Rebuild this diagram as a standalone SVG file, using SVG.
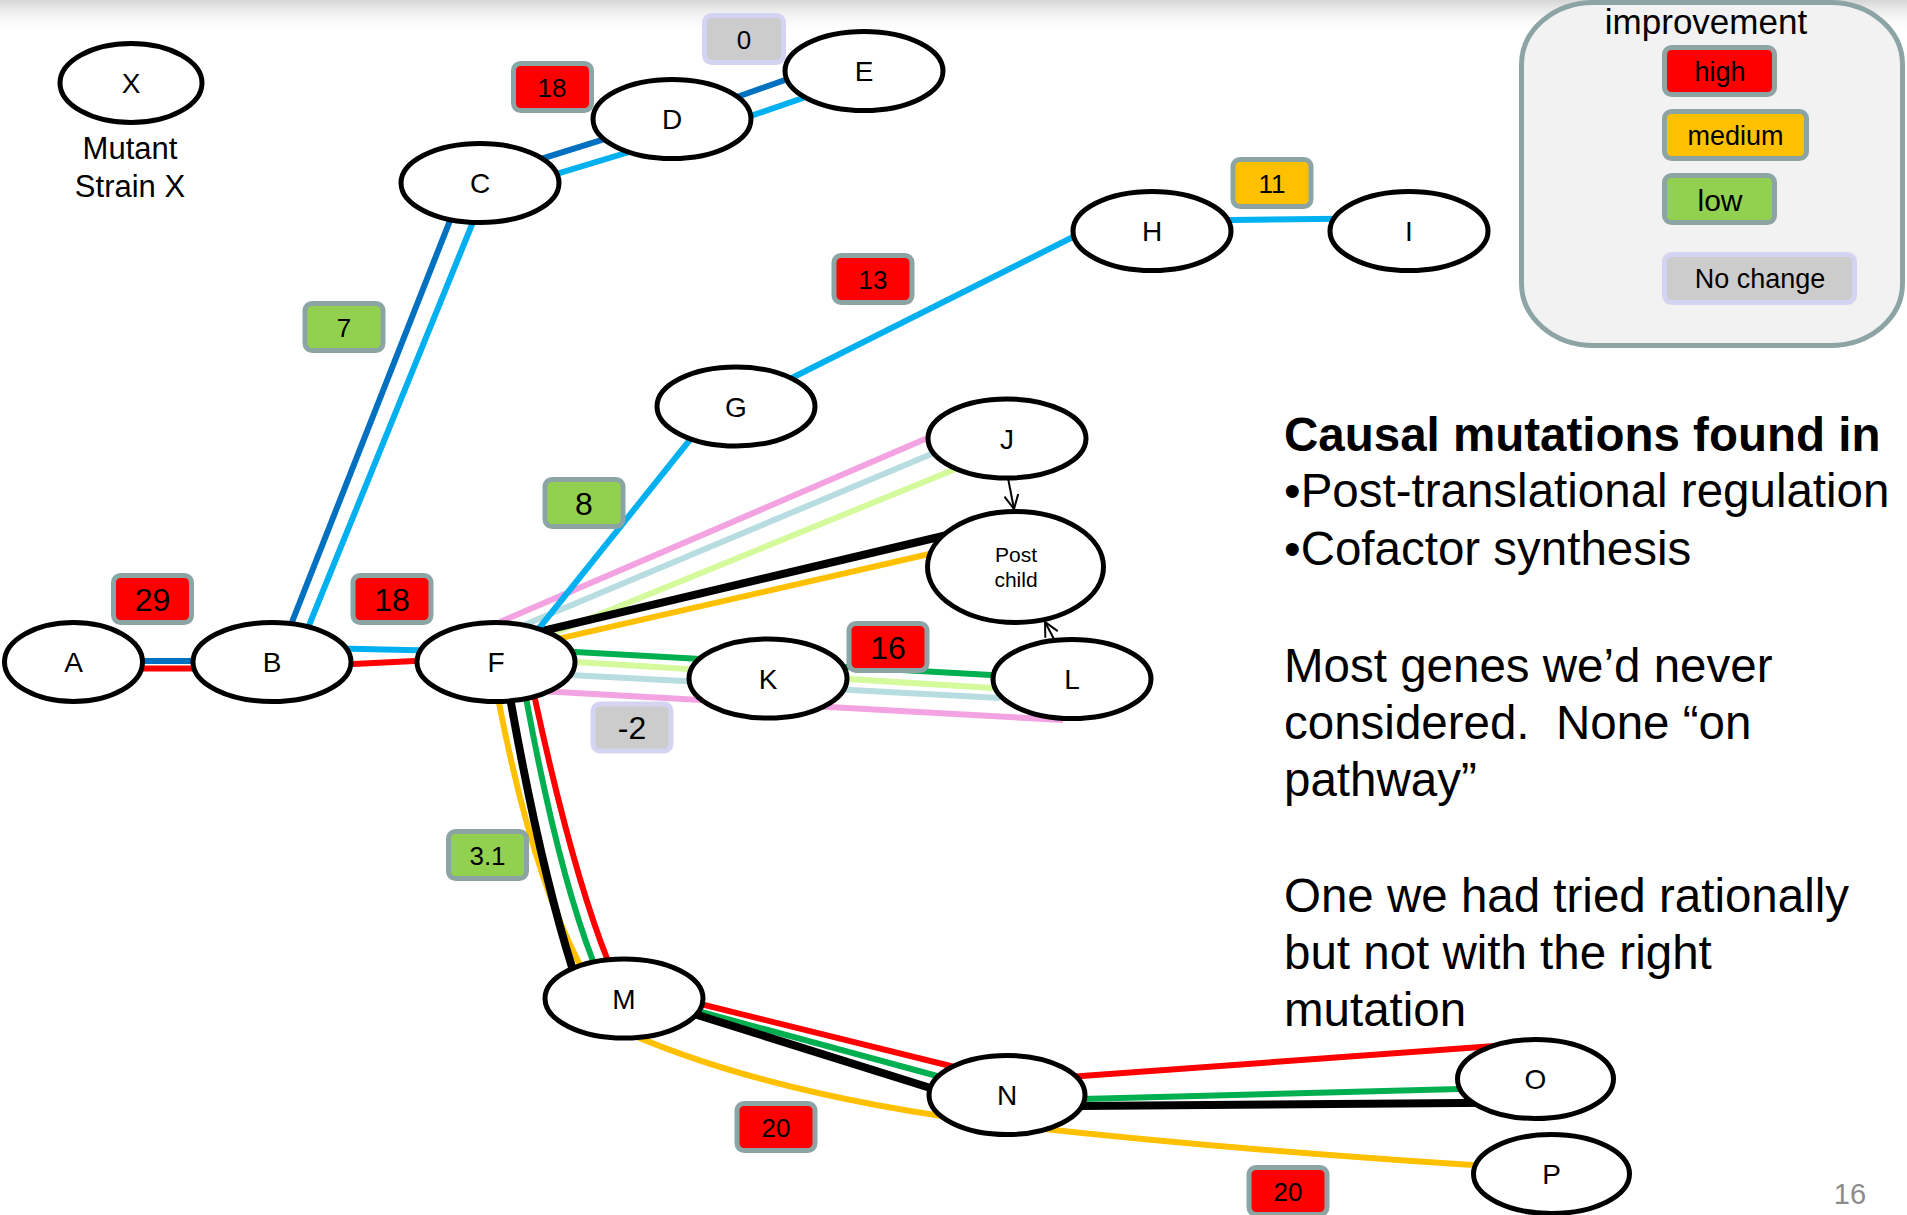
<svg xmlns="http://www.w3.org/2000/svg" width="1907" height="1215" viewBox="0 0 1907 1215">
  <defs>
    <linearGradient id="topShade" x1="0" y1="0" x2="0" y2="1">
      <stop offset="0" stop-color="#d6d6d6"/>
      <stop offset="1" stop-color="#ffffff" stop-opacity="0"/>
    </linearGradient>
    <marker id="openArrow" viewBox="0 0 16 16" refX="15" refY="8" markerWidth="16" markerHeight="16" markerUnits="userSpaceOnUse" orient="auto">
      <path d="M1,1 L15,8 L1,15" fill="none" stroke="#000" stroke-width="2"/>
    </marker>
    <style>
      text { font-family: "Liberation Sans", Arial, sans-serif; fill: #000; }
      .node { fill: #fff; stroke: #000; stroke-width: 5; }
      .nlab { font-size: 28px; text-anchor: middle; }
      .edge { fill: none; stroke-width: 6; }
      .db { stroke: #0070c0; }
      .lb { stroke: #00b0f0; }
      .rd { stroke: #ff0000; }
      .bk { stroke: #000000; stroke-width: 8; }
      .og { stroke: #ffc000; }
      .gn { stroke: #00b050; }
      .lg { stroke: #d5fa9c; }
      .tl { stroke: #b7dde0; }
      .pk { stroke: #f3a3e2; }
      .arrow { fill: none; stroke: #000; stroke-width: 2; }
      .tag { stroke: #8ca4a4; stroke-width: 5; }
      .tag-nc { fill: #cccccc; stroke: #d4d4f2; stroke-width: 5; }
      .hi { fill: #ff0000; }
      .md { fill: #ffc000; }
      .lo { fill: #92d050; }
      .tsm { font-size: 26px; text-anchor: middle; }
      .tbg { font-size: 32px; text-anchor: middle; }
      .body { font-size: 47.5px; white-space: pre; }
      .pagenum { font-size: 29px; text-anchor: middle; fill: #8c8c8c; }
    </style>
  </defs>

  <!-- soft shade along the top edge -->
  <rect x="0" y="0" width="1907" height="34" fill="url(#topShade)"/>

  <!-- legend panel -->
  <g id="legend">
    <rect x="1521.5" y="2.5" width="381" height="343" rx="72" ry="62" fill="#f2f2f2" stroke="#8ca4a4" stroke-width="5"/>
    <text x="1706" y="34" font-size="35" text-anchor="middle">improvement</text>
    <rect class="tag hi" x="1664.5" y="47.5" width="110" height="47" rx="7"/>
    <text x="1720" y="81" font-size="27" text-anchor="middle">high</text>
    <rect class="tag md" x="1664.5" y="111.5" width="142" height="47" rx="7"/>
    <text x="1735.5" y="145" font-size="27" text-anchor="middle">medium</text>
    <rect class="tag lo" x="1664.5" y="175.5" width="110" height="47" rx="7"/>
    <text x="1720" y="210.5" font-size="30" text-anchor="middle">low</text>
    <rect class="tag-nc" x="1664.5" y="254.5" width="190" height="48" rx="7"/>
    <text x="1760" y="288" font-size="27" text-anchor="middle">No change</text>
  </g>

  <!-- connectors -->
  <g id="connectors">
    <!-- A - B -->
    <line class="edge db" x1="73" y1="661" x2="272" y2="661"/>
    <line class="edge rd" x1="73" y1="668.5" x2="272" y2="668.5"/>
    <!-- B - F -->
    <line class="edge lb" x1="272" y1="647" x2="496" y2="652"/>
    <line class="edge rd" x1="272" y1="668" x2="496" y2="657"/>
    <!-- B - C -->
    <line class="edge db" x1="281" y1="650" x2="462" y2="190"/>
    <line class="edge lb" x1="299" y1="650" x2="486" y2="190"/>
    <!-- C - D -->
    <line class="edge db" x1="480" y1="178" x2="672" y2="118"/>
    <line class="edge lb" x1="480" y1="197" x2="672" y2="139"/>
    <!-- D - E -->
    <line class="edge db" x1="672" y1="120" x2="864" y2="52"/>
    <line class="edge lb" x1="672" y1="143" x2="864" y2="77"/>
    <!-- F - J -->
    <line class="edge pk" x1="500" y1="622" x2="960" y2="424"/>
    <line class="edge tl" x1="500" y1="635" x2="960" y2="442"/>
    <line class="edge lg" x1="510" y1="651" x2="980" y2="459"/>
    <!-- F - Post child -->
    <line class="edge og" x1="496" y1="653" x2="960" y2="547"/>
    <line class="edge bk" x1="496" y1="642" x2="960" y2="532"/>
    <!-- F - G - H - I -->
    <line class="edge lb" x1="512" y1="662" x2="717" y2="406"/>
    <line class="edge lb" x1="736" y1="406" x2="1085" y2="231"/>
    <line class="edge lb" x1="1152" y1="221" x2="1409" y2="218"/>
    <!-- F - K - L -->
    <line class="edge gn" x1="496" y1="647.5" x2="1000" y2="675.5"/>
    <line class="edge lg" x1="496" y1="657" x2="1000" y2="688.5"/>
    <line class="edge tl" x1="496" y1="671" x2="1000" y2="698"/>
    <line class="edge pk" x1="496" y1="688.5" x2="1063" y2="720"/>
    <!-- F - M -->
    <path class="edge og" d="M497 680 L499 703 Q531.5 870 578 961 L590 985"/>
    <path class="edge bk" d="M508 680 L511 703 Q540.5 867 572 967 L576 985"/>
    <path class="edge gn" d="M522 680 L527 703 Q558 870 593 961 L600 980"/>
    <path class="edge rd" d="M530 675 L535 699 Q572.5 872 608 961 L614 980"/>
    <!-- M - N - P (medium path) -->
    <path class="edge og" d="M610 1025 Q760 1095 1007 1125 Q1250 1152 1520 1168"/>
    <!-- M - N -->
    <line class="edge rd" x1="624" y1="985" x2="1007" y2="1080"/>
    <line class="edge gn" x1="624" y1="991" x2="1007" y2="1095"/>
    <line class="edge bk" x1="624" y1="992" x2="1007" y2="1112"/>
    <!-- N - O -->
    <line class="edge rd" x1="1007" y1="1081.5" x2="1535" y2="1043"/>
    <line class="edge gn" x1="1007" y1="1101" x2="1535" y2="1087"/>
    <line class="edge bk" x1="1007" y1="1106.6" x2="1535" y2="1102.5"/>
    <!-- regulation arrows into Post child -->
    <line class="arrow" x1="1008" y1="478" x2="1014" y2="509" marker-end="url(#openArrow)"/>
    <line class="arrow" x1="1055" y1="641" x2="1045" y2="622" marker-end="url(#openArrow)"/>
  </g>

  <!-- improvement tags on the edges -->
  <g id="tags">
    <g id="tag-DE"><rect class="tag-nc" x="704.5" y="15.5" width="79" height="47" rx="7"/><text class="tsm" x="744" y="48.5">0</text></g>
    <g id="tag-CD"><rect class="tag hi" x="513.5" y="63.5" width="78" height="47" rx="7"/><text class="tsm" x="552" y="96.5">18</text></g>
    <g id="tag-BC"><rect class="tag lo" x="305" y="303.5" width="78" height="47" rx="7"/><text class="tsm" x="344" y="336.5">7</text></g>
    <g id="tag-GH"><rect class="tag hi" x="834" y="255.5" width="78" height="47" rx="7"/><text class="tsm" x="873" y="288.5">13</text></g>
    <g id="tag-HI"><rect class="tag md" x="1233" y="159.5" width="78" height="47" rx="7"/><text class="tsm" x="1272" y="192.5">11</text></g>
    <g id="tag-AB"><rect class="tag hi" x="113.5" y="575.5" width="78" height="47" rx="7"/><text class="tbg" x="152.5" y="610.5">29</text></g>
    <g id="tag-BF"><rect class="tag hi" x="353" y="575.5" width="78" height="47" rx="7"/><text class="tbg" x="392" y="610.5">18</text></g>
    <g id="tag-FG"><rect class="tag lo" x="545" y="479.5" width="78" height="47" rx="7"/><text class="tbg" x="584" y="514.5">8</text></g>
    <g id="tag-FK"><rect class="tag-nc" x="593" y="704" width="78" height="47" rx="7"/><text class="tbg" x="632" y="738.5">-2</text></g>
    <g id="tag-KL"><rect class="tag hi" x="849" y="623.5" width="78" height="47" rx="7"/><text class="tbg" x="888" y="658.5">16</text></g>
    <g id="tag-FM"><rect class="tag lo" x="448.5" y="831.5" width="78" height="47" rx="7"/><text class="tsm" x="487.5" y="864.5">3.1</text></g>
    <g id="tag-MN"><rect class="tag hi" x="737" y="1103.5" width="78" height="47" rx="7"/><text class="tsm" x="776" y="1136.5">20</text></g>
    <g id="tag-NP"><rect class="tag hi" x="1249" y="1167.5" width="78" height="47" rx="7"/><text class="tsm" x="1288" y="1200.5">20</text></g>
  </g>

  <!-- gene nodes -->
  <g id="node-X"><ellipse class="node" cx="131" cy="83" rx="71" ry="39.5"/><text class="nlab" x="131" y="93">X</text></g>
  <g id="node-A"><ellipse class="node" cx="73.5" cy="662" rx="69" ry="39.5"/><text class="nlab" x="73.5" y="672">A</text></g>
  <g id="node-B"><ellipse class="node" cx="272" cy="662" rx="79" ry="39.5"/><text class="nlab" x="272" y="672">B</text></g>
  <g id="node-F"><ellipse class="node" cx="496" cy="662" rx="79" ry="39.5"/><text class="nlab" x="496" y="672">F</text></g>
  <g id="node-C"><ellipse class="node" cx="480" cy="183" rx="79" ry="39.5"/><text class="nlab" x="480" y="193">C</text></g>
  <g id="node-D"><ellipse class="node" cx="672" cy="119" rx="79" ry="39.5"/><text class="nlab" x="672" y="129">D</text></g>
  <g id="node-E"><ellipse class="node" cx="864" cy="71" rx="79" ry="39.5"/><text class="nlab" x="864" y="81">E</text></g>
  <g id="node-G"><ellipse class="node" cx="736" cy="406.5" rx="79" ry="39.5"/><text class="nlab" x="736" y="416.5">G</text></g>
  <g id="node-H"><ellipse class="node" cx="1152" cy="231" rx="79" ry="39.5"/><text class="nlab" x="1152" y="241">H</text></g>
  <g id="node-I"><ellipse class="node" cx="1409" cy="231" rx="79" ry="39.5"/><text class="nlab" x="1409" y="241">I</text></g>
  <g id="node-J"><ellipse class="node" cx="1007" cy="438.5" rx="79" ry="39.5"/><text class="nlab" x="1007" y="448.5">J</text></g>
  <g id="node-postchild"><ellipse class="node" cx="1015.5" cy="567" rx="88" ry="55.5"/>
    <text x="1016" y="562" font-size="21" text-anchor="middle">Post</text>
    <text x="1016" y="587" font-size="21" text-anchor="middle">child</text></g>
  <g id="node-K"><ellipse class="node" cx="768" cy="678.5" rx="79" ry="39.5"/><text class="nlab" x="768" y="688.5">K</text></g>
  <g id="node-L"><ellipse class="node" cx="1072" cy="679" rx="79" ry="39.5"/><text class="nlab" x="1072" y="689">L</text></g>
  <g id="node-M"><ellipse class="node" cx="624" cy="998.5" rx="79" ry="39.5"/><text class="nlab" x="624" y="1008.5">M</text></g>
  <g id="node-N"><ellipse class="node" cx="1007" cy="1095" rx="78" ry="39.5"/><text class="nlab" x="1007" y="1105">N</text></g>
  <g id="node-O"><ellipse class="node" cx="1535.5" cy="1079" rx="78" ry="39.5"/><text class="nlab" x="1535.5" y="1089">O</text></g>
  <g id="node-P"><ellipse class="node" cx="1551.5" cy="1174" rx="78" ry="39.5"/><text class="nlab" x="1551.5" y="1184">P</text></g>

  <!-- caption under X -->
  <text x="130" y="159" font-size="31" text-anchor="middle">Mutant</text>
  <text x="130" y="197" font-size="31" text-anchor="middle">Strain X</text>

  <!-- findings text -->
  <g id="notes">
    <text class="body" x="1284" y="451" font-weight="bold">Causal mutations found in</text>
    <text class="body" x="1284" y="507">•Post-translational regulation</text>
    <text class="body" x="1284" y="565">•Cofactor synthesis</text>
    <text class="body" x="1284" y="682">Most genes we’d never</text>
    <text class="body" x="1284" y="739">considered.&#160; None “on</text>
    <text class="body" x="1284" y="796">pathway”</text>
    <text class="body" x="1284" y="912">One we had tried rationally</text>
    <text class="body" x="1284" y="969">but not with the right</text>
    <text class="body" x="1284" y="1026">mutation</text>
  </g>

  <!-- page number -->
  <text class="pagenum" x="1850" y="1204">16</text>
</svg>
